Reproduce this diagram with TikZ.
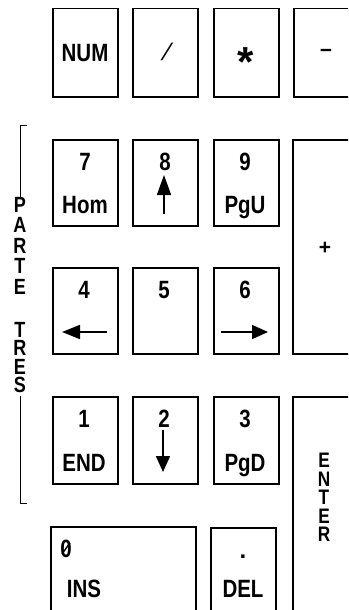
\documentclass[tikz,border=0pt]{standalone}
\usepackage{fontspec}
\setmainfont{Liberation Sans}
\newfontfamily\keyfont[FakeStretch=0.82]{Liberation Sans Bold}
\usetikzlibrary{arrows.meta,calc}
\tikzset{
  keybox/.style={draw, line width=1.5pt, anchor=north west, inner sep=0pt,
    minimum width=#1},
  keybox/.default=65pt,
  lbl/.style={font=\keyfont\fontsize{25}{25}\selectfont, inner sep=0pt, anchor=base},
  sym/.style={font=\fontsize{#1}{#1}\selectfont\bfseries, inner sep=0pt, anchor=base},
  thinsym/.style={font=\fontsize{#1}{#1}\selectfont, inner sep=0pt, anchor=base},
  vword/.style={font=\keyfont\fontsize{22}{#1}\selectfont, inner sep=0pt, anchor=north, align=center},
  keyarrow/.style={line width=1.6pt, -{Triangle[length=#1, width=14pt]}},
  bracket/.style={line width=1pt}
}
\begin{document}
\begin{tikzpicture}[x=1pt,y=-1pt]
\clip (0,0) rectangle (348,610);
\fill[white] (0,0) rectangle (348,610);

% row 1
\node[keybox, minimum height=88pt] (knum) at (52,8) {};
\node[keybox, minimum height=88pt] (kdiv) at (132,8) {};
\node[keybox, minimum height=88pt] (kmul) at (213,8) {};
\node[keybox, minimum height=88pt] (ksub) at (293,8) {};
\node[lbl] (tnum) at (85,62) {NUM};
\node[thinsym=24, xslant=0.35] (tdiv) at (164,60) {/};
\node[sym=42] (tmul) at (246,76) {*};
\node[sym=21] (tsub) at (326,58) {−};

% row 2
\node[keybox, minimum height=86pt] (k7) at (52,139) {};
\node[keybox, minimum height=86pt] (k8) at (132,139) {};
\node[keybox, minimum height=86pt] (k9) at (213,139) {};
\node[keybox, minimum height=214pt] (kadd) at (292,139) {};
\node[lbl] (t7) at (85,170) {7};
\node[lbl] (t7b) at (85,213) {Hom};
\node[lbl] (t8) at (165,170) {8};
\node[lbl] (t9) at (245,170) {9};
\node[lbl] (t9b) at (245,213) {PgU};
\node[sym=21] (tadd) at (325,254) {+};
\coordinate (a8s) at (164,214);
\coordinate (a8e) at (164,175);
\draw[keyarrow=20pt] (a8s) -- (a8e);

% row 3
\node[keybox, minimum height=86pt] (k4) at (52,267) {};
\node[keybox, minimum height=86pt] (k5) at (132,267) {};
\node[keybox, minimum height=86pt] (k6) at (213,267) {};
\node[lbl] (t4) at (84,298) {4};
\node[lbl] (t5) at (164,298) {5};
\node[lbl] (t6) at (245,298) {6};
\coordinate (a4s) at (107,332);
\coordinate (a4e) at (62,332);
\draw[keyarrow=18pt] (a4s) -- (a4e);
\coordinate (a6s) at (221,332);
\coordinate (a6e) at (268,332);
\draw[keyarrow=16pt] (a6s) -- (a6e);

% row 4
\node[keybox, minimum height=87pt] (k1) at (52,396) {};
\node[keybox, minimum height=87pt] (k2) at (132,396) {};
\node[keybox, minimum height=87pt] (k3) at (213,396) {};
\node[keybox, minimum height=240pt] (kent) at (292,396) {};
\node[lbl] (t1) at (84,427) {1};
\node[lbl] (t1b) at (84,471) {END};
\node[lbl] (t2) at (164,427) {2};
\node[lbl] (t3) at (245,427) {3};
\node[lbl] (t3b) at (245,471) {PgD};
\coordinate (a2s) at (163,430);
\coordinate (a2e) at (163,472);
\draw[keyarrow=16pt] (a2s) -- (a2e);
\node[vword=18.5, font=\keyfont\fontsize{21}{18.5}\selectfont] (tent) at (324,453) {E\\N\\T\\E\\R};

% row 5
\node[keybox=145pt, minimum height=100pt] (k0) at (50,526) {};
\node[keybox, minimum height=100pt] (kdel) at (210,527) {};
\node[lbl] (t0) at (66,557) {0};
\draw[line width=1.4pt] ($(t0.center)+(-4,5.5)$) -- ($(t0.center)+(4,-5.5)$);
\node[lbl] (t0b) at (84,597) {INS};
\node[sym=24] (tdot) at (243,558) {.};
\node[lbl] (tdel) at (243,597) {DEL};

% bracket with vertical text
\node[vword=20.5] (parte) at (20,197) {P\\A\\R\\T\\E};
\node[vword=18.5] (tres) at (20,322) {T\\R\\E\\S};
\coordinate (bt) at (27,125);
\coordinate (btc) at (20,125);
\coordinate (bb) at (27,503);
\coordinate (bbc) at (20,503);
\draw[bracket] (bt) -- (btc) -- (parte.north -| btc);
\draw[bracket] (bb) -- (bbc) -- ([yshift=-3pt]tres.south -| bbc);
\end{tikzpicture}
\end{document}
